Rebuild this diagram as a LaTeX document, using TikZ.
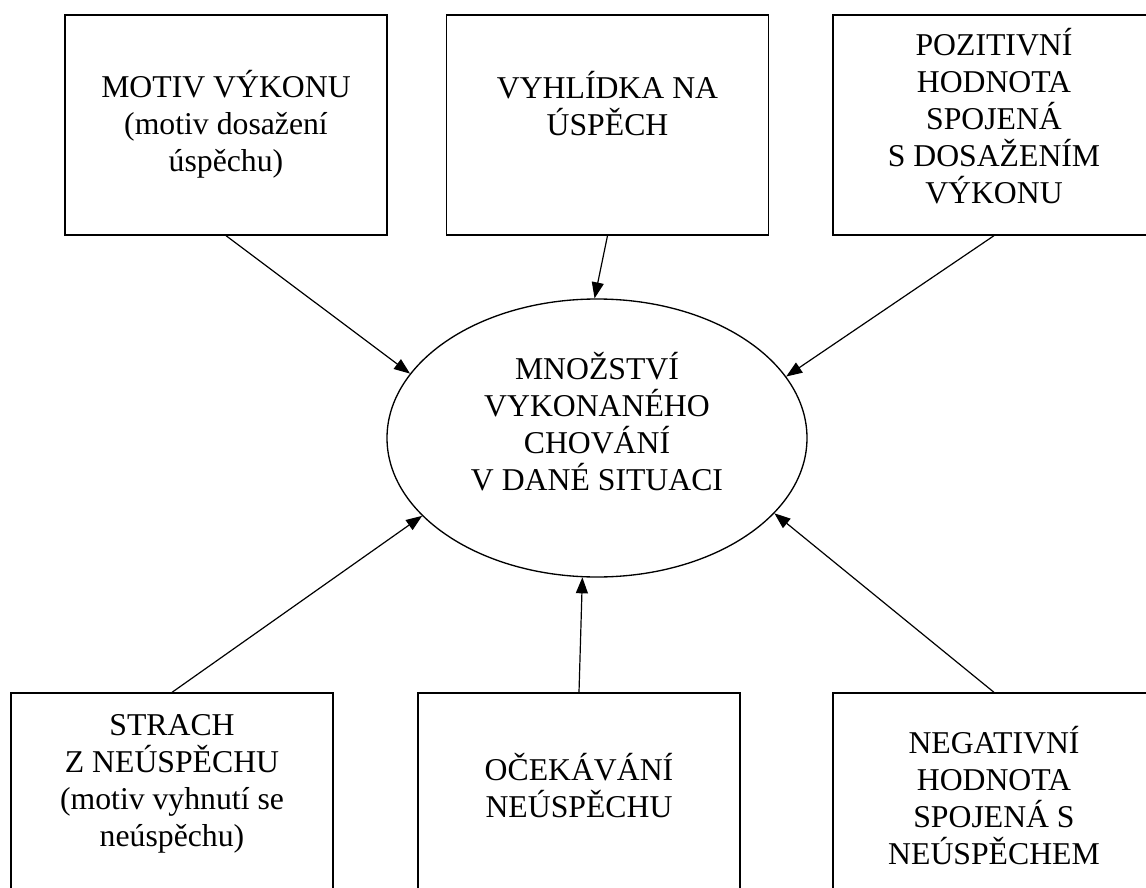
\documentclass[tikz,border=0pt]{standalone}
\usepackage{fontspec}
\setmainfont{Liberation Serif}
\usetikzlibrary{arrows.meta,shapes.geometric}

\begin{document}
\begin{tikzpicture}[x=0.75pt,y=-0.75pt,>={Triangle[length=12pt,width=9pt]},
    box/.style={draw,line width=1pt,minimum width=241.5pt,minimum height=165pt,inner sep=0pt},
    txt/.style={align=center,inner sep=0pt,font=\fontsize{23.8}{27.75}\selectfont}]
    \clip (0,0) rectangle (1146,888);
    \node[box] (motiv) at (226,125) {};
    \node[box] (vyhl) at (607.5,125) {};
    \node[box] (pozit) at (994,125) {};
    \node[box] (strach) at (172,803) {};
    \node[box] (ocek) at (579,803) {};
    \node[box] (negat) at (994,803) {};
    \node[draw,ellipse,line width=1pt,minimum width=315pt,minimum height=208.5pt,inner sep=0pt]
      (mnoz) at (597,438) {};
    \node[txt] (motivtxt) at (226,124) {MOTIV VÝKONU\\(motiv dosažení\\úspěchu)};
    \node[txt] (vyhltxt) at (607.5,104) {VYHLÍDKA NA\\ÚSPĚCH};
    \node[txt] (pozittxt) at (994,116) {POZITIVNÍ\\HODNOTA\\SPOJENÁ\\S DOSAŽENÍM\\VÝKONU};
    \node[txt] (mnoztxt) at (597,422) {MNOŽSTVÍ\\VYKONANÉHO\\CHOVÁNÍ\\V DANÉ SITUACI};
    \node[txt] (strachtxt) at (172,784) {STRACH\\Z NEÚSPĚCHU\\(motiv vyhnutí se\\neúspěchu)};
    \node[txt] (ocektxt) at (579,786) {OČEKÁVÁNÍ\\NEÚSPĚCHU};
    \node[txt] (negattxt) at (994,796) {NEGATIVNÍ\\HODNOTA\\SPOJENÁ S\\NEÚSPĚCHEM};
    \foreach \src/\ang in {motiv/161,vyhl/91,pozit/18}
    {
        \draw[->,line width=0.9pt] (\src.south) -- (mnoz.\ang);
    }
    \foreach \src/\ang in {strach/204,ocek/264,negat/337}
    {
        \draw[->,line width=0.9pt] (\src.north) -- (mnoz.\ang);
    }
\end{tikzpicture}
\end{document}
